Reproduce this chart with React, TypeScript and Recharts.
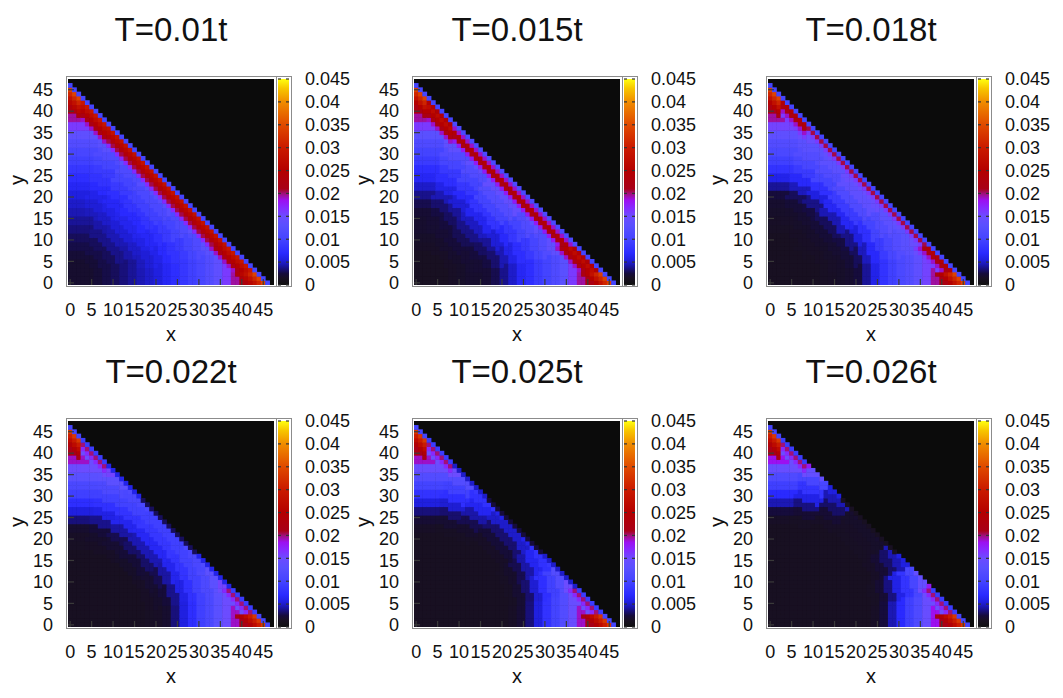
import React from 'react';
import { ScatterChart, Scatter, XAxis, YAxis, CartesianGrid, BarChart, Bar } from 'recharts';

// lattice 0..47 in x and y; sites with x+y > 46 are empty (black)
const EDGE = 46;
const axisTicks = [0, 5, 10, 15, 20, 25, 30, 35, 40, 45];
const cbTicks = [0, 0.005, 0.01, 0.015, 0.02, 0.025, 0.03, 0.035, 0.04, 0.045];
const titles = ['T=0.01t', 'T=0.015t', 'T=0.018t', 'T=0.022t', 'T=0.025t', 'T=0.026t'];

// values in units of 1e-3.
// rings: 4 angular sectors (0-11.25, -22.5, -33.75, -45 deg from the nearest axis),
// one value per radial shell of width 2 (r = 0-2, 2-4, ... 46-48)
const ringsT010 = [
  [2, 2, 2, 2.3, 2.7, 3, 3.5, 4, 4.5, 5, 5.5, 6.5, 7.5, 8.5, 9.5, 10.5, 12, 13.5, 16, 19.5, 22.5, 25, 28, 30],
  [2, 2, 2, 2.3, 2.7, 3, 3.5, 4, 4.7, 5.3, 6, 7, 8, 9, 10.2, 11.5, 13, 15, 17.5, 21, 23, 25, 28, 30],
  [2, 2, 2, 2.3, 2.7, 3, 3.7, 4.3, 5, 5.8, 6.6, 7.6, 8.8, 10, 11.4, 13, 14.8, 17, 19, 21, 23, 25, 28, 30],
  [2, 2, 2, 2.3, 2.7, 3, 3.8, 4.5, 5.3, 6.2, 7, 8.2, 9.5, 11, 12.5, 14.5, 16.5, 18.5, 20, 21, 22, 24, 26, 28],
];
const ringsT015 = [
  [1.5, 1.5, 1.5, 1.5, 1.7, 1.8, 2, 2, 2.2, 2.8, 3.8, 5, 6.5, 7.5, 9, 10, 11.5, 13, 16, 19.5, 22.5, 25, 28, 30],
  [1.5, 1.5, 1.5, 1.5, 1.7, 1.8, 2.1, 2.2, 2.6, 3.3, 4.5, 5.9, 7.5, 8.7, 10.3, 11.8, 13.5, 15.3, 18, 20.5, 23, 25, 28, 30],
  [1.5, 1.5, 1.5, 1.5, 1.7, 1.9, 2.2, 2.5, 3.1, 4, 5.3, 6.8, 8.5, 10, 11.8, 13.6, 15.5, 17.5, 19.5, 21, 23, 25, 28, 30],
  [1.5, 1.5, 1.5, 1.5, 1.7, 2, 2.4, 2.9, 3.7, 4.8, 6.3, 8.2, 10, 12, 14, 16, 17.5, 18.5, 20, 21, 22, 24, 26, 28],
];
const ringsT018 = [
  [1.5, 1.5, 1.5, 1.5, 1.5, 1.5, 1.6, 1.7, 1.8, 2, 2.5, 4, 6, 8, 9.5, 11, 12, 13.5, 15.5, 19.5, 22.5, 25, 28, 30],
  [1.5, 1.5, 1.5, 1.5, 1.5, 1.5, 1.6, 1.75, 1.9, 2.3, 3, 4.7, 6.8, 9, 10.6, 12, 13, 14.5, 16.5, 19.5, 22.5, 25, 28, 30],
  [1.5, 1.5, 1.5, 1.5, 1.5, 1.55, 1.65, 1.8, 2.1, 2.6, 3.7, 5.5, 7.7, 10, 11.8, 13.2, 14, 15, 16.5, 18, 20, 22, 24, 26],
  [1.5, 1.5, 1.5, 1.5, 1.5, 1.6, 1.7, 1.9, 2.3, 3, 4.5, 6.5, 9, 11.5, 13.5, 14.5, 15, 15, 16, 17, 18, 20, 22, 24],
];
const ringsT022 = [
  [1.5, 1.5, 1.5, 1.5, 1.5, 1.5, 1.5, 1.5, 1.5, 1.6, 1.7, 2, 3.5, 5.5, 7.5, 9.5, 11, 13, 15, 19, 22.5, 25, 28, 30],
  [1.5, 1.5, 1.5, 1.5, 1.5, 1.5, 1.5, 1.5, 1.5, 1.65, 1.9, 2.4, 3.8, 5.8, 7.8, 9.7, 11.2, 13.2, 15.5, 19, 22, 25, 28, 30],
  [1.5, 1.5, 1.5, 1.5, 1.5, 1.5, 1.5, 1.5, 1.5, 1.7, 2.1, 2.8, 4.2, 6.2, 8.2, 9.8, 10.8, 11.5, 12, 12.5, 13, 14, 15, 16],
  [1.5, 1.5, 1.5, 1.5, 1.5, 1.5, 1.5, 1.5, 1.5, 1.8, 2.3, 3.2, 4.5, 6.5, 8.5, 9.5, 9.5, 9.5, 9.5, 9.5, 9.5, 9.5, 9.5, 9.5],
];
const ringsT025 = [
  [1.5, 1.5, 1.5, 1.5, 1.5, 1.5, 1.5, 1.5, 1.5, 1.5, 1.5, 1.7, 2.2, 3.5, 5.5, 8, 10, 12, 14.5, 19, 22.5, 25, 28, 30],
  [1.5, 1.5, 1.5, 1.5, 1.5, 1.5, 1.5, 1.5, 1.5, 1.5, 1.5, 1.6, 2.1, 3.3, 5.2, 7.6, 9.7, 12, 15, 19, 22, 25, 28, 30],
  [1.5, 1.5, 1.5, 1.5, 1.5, 1.5, 1.5, 1.5, 1.5, 1.5, 1.5, 1.6, 1.9, 2.8, 4.3, 6.3, 7.8, 8.5, 9, 9, 9, 9, 9, 9],
  [1.5, 1.5, 1.5, 1.5, 1.5, 1.5, 1.5, 1.5, 1.5, 1.5, 1.5, 1.5, 1.7, 2.3, 3.3, 5, 6, 6, 6, 6, 6, 6, 6, 6],
];
const ringsT026 = [
  [1.5, 1.5, 1.5, 1.5, 1.5, 1.5, 1.5, 1.5, 1.5, 1.5, 1.5, 1.5, 1.7, 2.5, 4.5, 7, 9.5, 11.5, 14.5, 18.5, 22.5, 25, 28, 30],
  [1.5, 1.5, 1.5, 1.5, 1.5, 1.5, 1.5, 1.5, 1.5, 1.5, 1.5, 1.5, 1.6, 2.2, 3.6, 5.8, 8.2, 10.5, 14, 18, 21, 24, 27, 29],
  [1.5, 1.5, 1.5, 1.5, 1.5, 1.5, 1.5, 1.5, 1.5, 1.5, 1.5, 1.5, 1.5, 1.7, 2.2, 3.2, 4.5, 5.5, 5.5, 5.5, 5.5, 5.5, 5.5, 5.5],
  [1.5, 1.5, 1.5, 1.5, 1.5, 1.5, 1.5, 1.5, 1.5, 1.5, 1.5, 1.5, 1.5, 1.6, 1.7, 1.8, 2, 2, 2, 2, 2, 2, 2, 2],
];

// edge band: rows = distance from the cut (d = 46 - x - y = 0..5),
// columns = min(x,y) < 3, < 9, < 17, rest. null -> use the ring value
type Band = (number | null)[][];
const bandT010: Band = [
  [10, 10, 10, 10],
  [34, 29, 28, 28],
  [31, 27, 26, 26],
  [28, 25, 23.5, 23.5],
  [26, 22, 20.5, 20.5],
  [23, 19, 17, 17],
];
const bandT015: Band = [
  [10, 10, 11, 11],
  [34, 24, 19, 19],
  [31, 27, 24, 24],
  [28, 25, 22, 22],
  [25, 22, 18, 18],
  [22, 19, null, null],
];
const bandT018: Band = [
  [10, 10, 10, 10],
  [34, 24, 20.5, 20.5],
  [31, 22, 16, 16],
  [28, 19, null, null],
  [25, 16, null, null],
  [22, null, null, null],
];
const bandT022: Band = [
  [10, 9, 6, 3],
  [33, 20, null, null],
  [30, 17, null, null],
  [27, 15, null, null],
  [24, null, null, null],
  [21, null, null, null],
];
const bandT025: Band = [
  [10, 9, 5, 2.5],
  [33, 20, null, null],
  [30, 17, null, null],
  [27, 15, null, null],
  [24, null, null, null],
  [21, null, null, null],
];
const bandT026: Band = [
  [10, 9, null, 1.5],
  [33, 20, null, null],
  [30, 17, null, null],
  [27, 15, null, null],
  [24, null, null, null],
  [21, null, null, null],
];

// palette (value in 1e-3 -> colour)
const palV = [0, 1.5, 2.5, 3.5, 4.5, 5.5, 7, 10, 13, 15, 17, 18.5, 20, 21, 25, 30, 35, 40, 43, 45];
const palC = ['#101010', '#181022', '#160c3c', '#18107a', '#1c18b4', '#2020e0', '#2a2aff', '#4444ff', '#5a50ff',
  '#6c4cff', '#8828ff', '#9c10f0', '#a01078', '#a80018', '#b40000', '#ca1a00', '#e04a00', '#f08c00', '#f8c800', '#ffff10'];

const FONT = "'Liberation Sans', Arial, Helvetica, sans-serif";
const PLOT = 206;
const CELL = PLOT / 48;
const colLeft = [68, 414, 768];
const rowTop = [78.5, 420.5];

const palRgb = palC.map(h => {
  const n = parseInt(h.slice(1), 16);
  return [n >> 16, (n >> 8) & 255, n & 255];
});

function colorOf(v: number) {
  const m = v * 1000;
  if (m <= palV[0]) return palC[0];
  for (let i = 0; i < palV.length - 1; i++) {
    if (m <= palV[i + 1]) {
      const t = (m - palV[i]) / (palV[i + 1] - palV[i]);
      const a = palRgb[i], b = palRgb[i + 1];
      const c = a.map((q, k) => Math.round(q + (b[k] - q) * t));
      return `rgb(${c[0]},${c[1]},${c[2]})`;
    }
  }
  return palC[palC.length - 1];
}

function buildCells(rings: number[][], band: Band) {
  const out: { x: number; y: number; v: number }[] = [];
  for (let x = 0; x <= EDGE; x++) {
    for (let y = 0; y <= EDGE - x; y++) {
      const d = EDGE - x - y;
      const s = Math.min(x, y);
      const b = s < 3 ? 0 : s < 9 ? 1 : s < 17 ? 2 : 3;
      let v = band[d] ? band[d][b] : null;
      if (v == null) {
        const ring = Math.min(23, Math.floor(Math.hypot(x, y) / 2));
        const phi = (Math.atan2(s, Math.max(x, y)) * 180) / Math.PI;
        const sec = Math.min(3, Math.floor(phi / 11.25));
        v = rings[sec][ring];
      }
      out.push({ x, y, v: v * 1e-3 });
    }
  }
  return out;
}

const panels = [
  buildCells(ringsT010, bandT010),
  buildCells(ringsT015, bandT015),
  buildCells(ringsT018, bandT018),
  buildCells(ringsT022, bandT022),
  buildCells(ringsT025, bandT025),
  buildCells(ringsT026, bandT026),
];

const TICK = '#3a3a3a';

const CellShape = (p: any) => (
  <rect x={p.cx - CELL / 2 - 0.25} y={p.cy - CELL / 2 - 0.25} width={CELL + 0.5} height={CELL + 0.5}
    fill={colorOf(p.payload.v)} />
);

const BottomTick = (p: any) => (
  <g>
    <line x1={p.x} x2={p.x} y1={p.y} y2={p.y - 6} stroke={TICK} strokeWidth={1.2} />
    <text x={p.x} y={p.y + 24.5} dy="0.35em" textAnchor="middle" fontSize={18} fontFamily={FONT} fill="#111">
      {p.payload.value}
    </text>
  </g>
);
const LeftTick = (p: any) => (
  <g>
    <line x1={p.x} x2={p.x + 6} y1={p.y} y2={p.y} stroke={TICK} strokeWidth={1.2} />
    <text x={p.x - 15} y={p.y} dy="0.35em" textAnchor="end" fontSize={18} fontFamily={FONT} fill="#111">
      {p.payload.value}
    </text>
  </g>
);
const TopTick = (p: any) => <line x1={p.x} x2={p.x} y1={p.y} y2={p.y + 6} stroke="#555" strokeWidth={1.2} />;
const RightTick = (p: any) => <line x1={p.x} x2={p.x - 6} y1={p.y} y2={p.y} stroke="#555" strokeWidth={1.2} />;

const CbTick = (p: any) => (
  <g>
    <line x1={p.x} x2={p.x - 3} y1={p.y} y2={p.y} stroke="#333" strokeWidth={1.2} />
    <line x1={p.x - 11} x2={p.x - 8} y1={p.y} y2={p.y} stroke="#333" strokeWidth={1.2} />
    <text x={p.x + 16} y={p.y} dy="0.35em" textAnchor="start" fontSize={18} fontFamily={FONT} fill="#111">
      {String(+Number(p.payload.value).toFixed(3))}
    </text>
  </g>
);

const frameStyle = (left: number, top: number, w: number, h: number): React.CSSProperties => ({
  position: 'absolute', left: left - 2.5, top: top - 2.5, width: w + 5, height: h + 5,
  border: '1.5px solid #8c8c8c', boxSizing: 'border-box', pointerEvents: 'none',
});

function Panel({ idx }: { idx: number }) {
  const L = colLeft[idx % 3];
  const T = rowTop[Math.floor(idx / 3)];
  const cells = panels[idx];
  return (
    <>
      <div style={{ position: 'absolute', left: L + 3, top: T - 65.5, width: 200, textAlign: 'center',
        fontSize: 33, lineHeight: '33px', fontFamily: FONT, color: '#111' }}>{titles[idx]}</div>
      <div style={{ position: 'absolute', left: L - 68, top: T }}>
        <ScatterChart width={68 + PLOT} height={PLOT + 70} margin={{ top: 0, right: 0, bottom: 0, left: 0 }}>
          <CartesianGrid horizontal={false} vertical={false} fill="#0b0b0b" />
          <Scatter data={cells} isAnimationActive={false} shape={CellShape} />
          <XAxis type="number" dataKey="x" domain={[-0.5, 47.5]} allowDataOverflow ticks={axisTicks} interval={0}
            height={70} tickSize={0} tickMargin={0} axisLine={false} tickLine={false} tick={BottomTick}
            label={{ content: () => <text x={68 + PLOT / 2} y={PLOT + 56} textAnchor="middle" fontSize={20}
              fontFamily={FONT} fill="#111">x</text> }} />
          <YAxis type="number" dataKey="y" domain={[-0.5, 47.5]} allowDataOverflow ticks={axisTicks} interval={0}
            width={68} tickSize={0} tickMargin={0} axisLine={false} tickLine={false} tick={LeftTick}
            label={{ content: () => <text x={17.5} y={101} transform={`rotate(-90 17.5 101)`} textAnchor="middle"
              dy="0.3em" fontSize={20} fontFamily={FONT} fill="#111">y</text> }} />
          <XAxis xAxisId="t" orientation="top" type="number" domain={[-0.5, 47.5]} allowDataOverflow ticks={axisTicks}
            interval={0} height={0} tickSize={0} tickMargin={0} axisLine={false} tickLine={false} tick={TopTick} />
          <YAxis yAxisId="r" orientation="right" type="number" domain={[-0.5, 47.5]} allowDataOverflow ticks={axisTicks}
            interval={0} width={0} tickSize={0} tickMargin={0} axisLine={false} tickLine={false} tick={RightTick} />
        </ScatterChart>
      </div>
      <div style={frameStyle(L, T, PLOT, PLOT)} />
      <div style={{ position: 'absolute', left: L + PLOT + 4, top: T - 12 }}>
        <BarChart width={11 + 70} height={PLOT + 24} data={[{ k: 'cb', v: 0.045 }]} barCategoryGap={0}
          margin={{ top: 12, right: 0, bottom: 12, left: 0 }}>
          <defs>
            <linearGradient id={`cbg${idx}`} x1="0" y1="1" x2="0" y2="0">
              {palV.map((v, i) => <stop key={i} offset={v / 45} stopColor={palC[i]} />)}
            </linearGradient>
          </defs>
          <XAxis dataKey="k" hide />
          <YAxis orientation="right" type="number" domain={[0, 0.045]} ticks={cbTicks} interval={0} width={70}
            tickSize={0} tickMargin={0} axisLine={false} tickLine={false} tick={CbTick} />
          <Bar dataKey="v" fill={`url(#cbg${idx})`} isAnimationActive={false} />
        </BarChart>
      </div>
      <div style={frameStyle(L + PLOT + 4, T, 11, PLOT)} />
    </>
  );
}

export default function App() {
  return (
    <div style={{ position: 'relative', width: 1063, height: 698, background: '#fff', overflow: 'hidden' }}>
      <style>{'body{margin:0}'}</style>
      {[0, 1, 2, 3, 4, 5].map(i => <Panel key={i} idx={i} />)}
    </div>
  );
}
